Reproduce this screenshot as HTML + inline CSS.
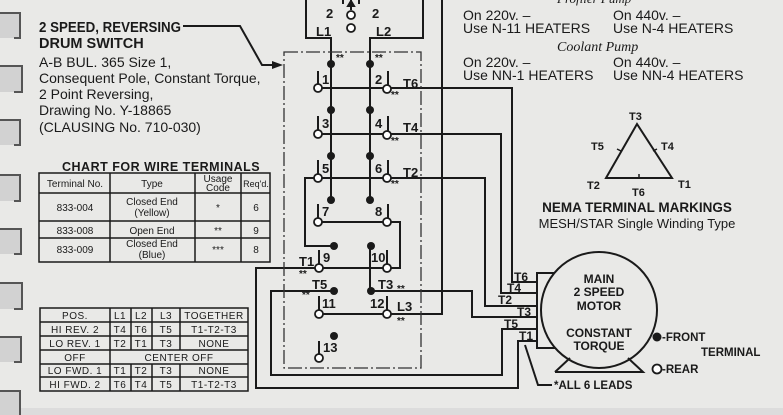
<!DOCTYPE html>
<html><head><meta charset="utf-8"><style>
html,body{margin:0;padding:0;background:#e9e9e7;}
svg{display:block}
text{font-family:"Liberation Sans",sans-serif;fill:#1a1a1a}
.b{font-weight:bold}
</style></head><body>
<svg width="783" height="415" viewBox="0 0 783 415" xmlns="http://www.w3.org/2000/svg">
<rect width="783" height="415" fill="#e9e9e7"/>
<rect y="408" width="783" height="7" fill="#dcdcdc"/>
<!-- spiral tabs -->
<g fill="#d2d2d2">
<rect x="0" y="13" width="20" height="25"/><rect x="0" y="66" width="22" height="26"/><rect x="0" y="120" width="20" height="25"/><rect x="0" y="175" width="20" height="26"/><rect x="0" y="229" width="21" height="25"/><rect x="0" y="283" width="22" height="26"/><rect x="0" y="337" width="21" height="25"/><rect x="0" y="391" width="20" height="24"/>
</g>
<g fill="none" stroke="#555" stroke-width="2">
<path d="M0 13 H20 V38 H14"/><path d="M0 66 H22 V92 H14"/><path d="M0 120 H20 V145 H14"/><path d="M0 175 H20 V201 H14"/><path d="M0 229 H21 V254 H14"/><path d="M0 283 H22 V309 H14"/><path d="M0 337 H21 V362 H14"/><path d="M0 391 H20 V415"/>
</g>
<g stroke="#1a1a1a" stroke-width="2" fill="none">
<!-- top box -->
<path d="M306 0 V38 H331 V88"/><path d="M423 0 V38 H370 V88"/>
<path d="M351 0 V10"/><path d="M351 1 l-3 5 h6z" fill="#1a1a1a"/>
<path d="M343 0 V4 M359 0 V4"/>
<!-- L3 wire -->
<path d="M442 0 V314 H387"/>
<!-- arrow -->
<path d="M183 26 H240 L262 65 H274"/>
<path d="M283 65 L272 61 V69 Z" fill="#1a1a1a" stroke="none"/>
<!-- L1/L2 columns -->
<path d="M331 52 V200 M370 52 V200 M370 246 V291"/>
<!-- contact rows -->
<path d="M319 88 H387 H512 V282 H537"/>
<path d="M319 134 H387 H501 V293 H537"/>
<path d="M319 178 H387 H485 V306 H537"/>
<path d="M319 178 H305 V246 H334"/>
<path d="M319 222 H387 H400 V268 H387"/>
<path d="M387 268 H319 H256 V388 H518 V341 H537"/>
<path d="M334 291 H271 V375 H502 V329 H537"/>
<path d="M371 291 H472 V317 H537"/>
<path d="M319 314 H387"/>
<!-- ticks -->
<path d="M318 71 V85 M388 71 V85 M318 116 V131 M388 116 V131 M318 160 V175 M388 160 V175 M318 204 V219 M388 204 V219 M319 250 V265 M387 250 V265 M319 296 V311 M387 296 V311 M319 341 V355"/>
<!-- motor -->
<rect x="537" y="273" width="30" height="75"/>
<circle cx="599" cy="310" r="58" fill="#e9e9e7"/>
<path d="M555 372 H643 L628 358 M555 372 L570 358"/>
<path d="M525 345 L538 385 H552"/>
<!-- triangle -->
<path d="M637 124 L606 178 H672 Z"/>
<path d="M621 151 l-4 -2 M653 151 l4 -2 M639 178 v-4" stroke-width="1.5"/>
</g>
<!-- dashed box -->
<rect x="284" y="52" width="137" height="316" fill="none" stroke="#333" stroke-width="1.3" stroke-dasharray="14 3 2 3"/>
<g fill="#1a1a1a">
<circle cx="331" cy="64" r="4"/><circle cx="370" cy="64" r="4"/>
<circle cx="331" cy="110" r="4"/><circle cx="370" cy="110" r="4"/>
<circle cx="331" cy="156" r="4"/><circle cx="370" cy="156" r="4"/>
<circle cx="331" cy="200" r="4"/><circle cx="370" cy="200" r="4"/>
<circle cx="334" cy="246" r="4"/><circle cx="371" cy="246" r="4"/>
<circle cx="334" cy="291" r="4"/><circle cx="371" cy="291" r="4"/>
<circle cx="334" cy="336" r="4"/>
<circle cx="657" cy="337" r="4.5"/>
</g>
<g fill="#fff" stroke="#1a1a1a" stroke-width="1.8">
<circle cx="351" cy="15" r="4"/><circle cx="351" cy="28" r="4"/>
<circle cx="318" cy="88" r="4"/><circle cx="387" cy="89" r="4"/>
<circle cx="318" cy="134" r="4"/><circle cx="387" cy="135" r="4"/>
<circle cx="318" cy="178" r="4"/><circle cx="387" cy="178" r="4"/>
<circle cx="318" cy="222" r="4"/><circle cx="387" cy="222" r="4"/>
<circle cx="319" cy="268" r="4"/><circle cx="387" cy="268" r="4"/>
<circle cx="319" cy="314" r="4"/><circle cx="387" cy="314" r="4"/>
<circle cx="319" cy="358" r="4"/>
<circle cx="657" cy="369" r="4.5"/>
</g>
<!-- switch labels -->
<g font-size="13" class="b">
<text x="326" y="18" class="b">2</text><text x="372" y="18" class="b">2</text>
<text x="316" y="36" class="b">L1</text><text x="376" y="36" class="b">L2</text>
<text x="322" y="84">1</text><text x="375" y="84">2</text>
<text x="322" y="128">3</text><text x="375" y="128">4</text>
<text x="322" y="173">5</text><text x="375" y="173">6</text>
<text x="322" y="216">7</text><text x="375" y="216">8</text>
<text x="323" y="262">9</text><text x="371" y="262">10</text>
<text x="322" y="308">11</text><text x="370" y="308">12</text>
<text x="323" y="352">13</text>
<text x="403" y="88">T6</text><text x="403" y="132">T4</text><text x="403" y="177">T2</text>
<text x="299" y="266">T1</text><text x="312" y="289">T5</text><text x="378" y="289">T3</text><text x="397" y="311">L3</text>
</g>
<g font-size="10" class="b">
<text x="336" y="61">**</text><text x="375" y="61">**</text>
<text x="391" y="98">**</text><text x="391" y="144">**</text><text x="391" y="187">**</text>
<text x="299" y="277">**</text><text x="302" y="298">**</text><text x="397" y="292">**</text><text x="397" y="324">**</text>
</g>
<!-- motor labels -->
<g font-size="12" class="b">
<text x="514" y="281">T6</text><text x="507" y="292">T4</text><text x="498" y="304">T2</text>
<text x="517" y="316">T3</text><text x="504" y="328">T5</text><text x="519" y="340">T1</text>
</g>
<g font-size="12" class="b" text-anchor="middle">
<text x="599" y="283">MAIN</text><text x="599" y="296">2 SPEED</text><text x="599" y="310">MOTOR</text>
<text x="599" y="337">CONSTANT</text><text x="599" y="350">TORQUE</text>
</g>
<g font-size="11.5" class="b">
<text x="662" y="341">-FRONT</text><text x="701" y="356">TERMINAL</text><text x="662" y="373">-REAR</text>
<text x="554" y="389">*ALL 6 LEADS</text>
</g>
<!-- triangle labels -->
<g font-size="11" class="b">
<text x="629" y="120">T3</text><text x="591" y="150">T5</text><text x="661" y="150">T4</text>
<text x="587" y="189">T2</text><text x="632" y="196">T6</text><text x="678" y="188">T1</text>
</g>
<text x="637" y="212" font-size="13.5" class="b" text-anchor="middle">NEMA TERMINAL MARKINGS</text>
<text x="637" y="228" font-size="13" text-anchor="middle">MESH/STAR Single Winding Type</text>
<!-- heaters text -->
<text x="557" y="3" font-size="13" font-style="italic" style="font-family:'Liberation Serif',serif">Profiler Pump</text>
<g font-size="14">
<text x="463" y="20">On 220v. –</text><text x="463" y="33">Use N-11  HEATERS</text>
<text x="613" y="20">On 440v. –</text><text x="613" y="33">Use N-4  HEATERS</text>
<text x="463" y="67">On 220v. –</text><text x="463" y="80">Use NN-1  HEATERS</text>
<text x="613" y="67">On 440v. –</text><text x="613" y="80">Use NN-4  HEATERS</text>
</g>
<text x="557" y="51" font-size="14" font-style="italic" style="font-family:'Liberation Serif',serif">Coolant Pump</text>
<!-- left text -->
<text x="39" y="32" font-size="14.5" class="b" textLength="142" lengthAdjust="spacingAndGlyphs">2 SPEED, REVERSING</text>
<text x="39" y="48" font-size="14.5" class="b">DRUM SWITCH</text>
<g font-size="14">
<text x="39" y="67">A-B BUL. 365 Size 1,</text>
<text x="39" y="83">Consequent Pole, Constant Torque,</text>
<text x="39" y="99">2 Point Reversing,</text>
<text x="39" y="115">Drawing No. Y-18865</text>
<text x="39" y="132">(CLAUSING  No. 710-030)</text>
</g>
<text x="62" y="171" font-size="12.5" class="b" letter-spacing="0.5">CHART FOR WIRE TERMINALS</text>
<!-- table 1 -->
<g stroke="#1a1a1a" stroke-width="1.5" fill="none">
<rect x="39" y="173" width="231" height="89"/>
<path d="M110 173 V262 M195 173 V262 M241 173 V262 M39 193 H270 M39 221 H270 M39 238 H270"/>
</g>
<g font-size="10" text-anchor="middle">
<text x="75" y="187">Terminal No.</text><text x="152" y="187">Type</text>
<text x="218" y="182">Usage</text><text x="218" y="191">Code</text><text x="256" y="187" font-size="9">Req'd.</text>
<text x="75" y="211">833-004</text><text x="152" y="205">Closed End</text><text x="152" y="216">(Yellow)</text><text x="218" y="211">*</text><text x="256" y="211">6</text>
<text x="75" y="234">833-008</text><text x="152" y="234">Open End</text><text x="218" y="234">**</text><text x="256" y="234">9</text>
<text x="75" y="253">833-009</text><text x="152" y="247">Closed End</text><text x="152" y="258">(Blue)</text><text x="218" y="253">***</text><text x="256" y="253">8</text>
</g>
<!-- table 2 -->
<g stroke="#1a1a1a" stroke-width="1.5" fill="none">
<rect x="40" y="308" width="208" height="83"/>
<path d="M40 322 H248 M40 336 H248 M40 350 H248 M40 364 H248 M40 377 H248"/>
<path d="M110 308 V391 M131 308 V350 M152 308 V350 M180 308 V350 M131 364 V391 M152 364 V391 M180 364 V391"/>
</g>
<g font-size="10" text-anchor="middle" letter-spacing="0.5">
<text x="75" y="319">POS.</text><text x="120" y="319">L1</text><text x="141" y="319">L2</text><text x="166" y="319">L3</text><text x="214" y="319">TOGETHER</text>
<text x="75" y="333">HI  REV. 2</text><text x="120" y="333">T4</text><text x="141" y="333">T6</text><text x="166" y="333">T5</text><text x="214" y="333">T1-T2-T3</text>
<text x="75" y="347">LO  REV. 1</text><text x="120" y="347">T2</text><text x="141" y="347">T1</text><text x="166" y="347">T3</text><text x="214" y="347">NONE</text>
<text x="75" y="361">OFF</text><text x="179" y="361">CENTER  OFF</text>
<text x="75" y="374">LO  FWD. 1</text><text x="120" y="374">T1</text><text x="141" y="374">T2</text><text x="166" y="374">T3</text><text x="214" y="374">NONE</text>
<text x="75" y="388">HI  FWD. 2</text><text x="120" y="388">T6</text><text x="141" y="388">T4</text><text x="166" y="388">T5</text><text x="214" y="388">T1-T2-T3</text>
</g>
</svg>
</body></html>
